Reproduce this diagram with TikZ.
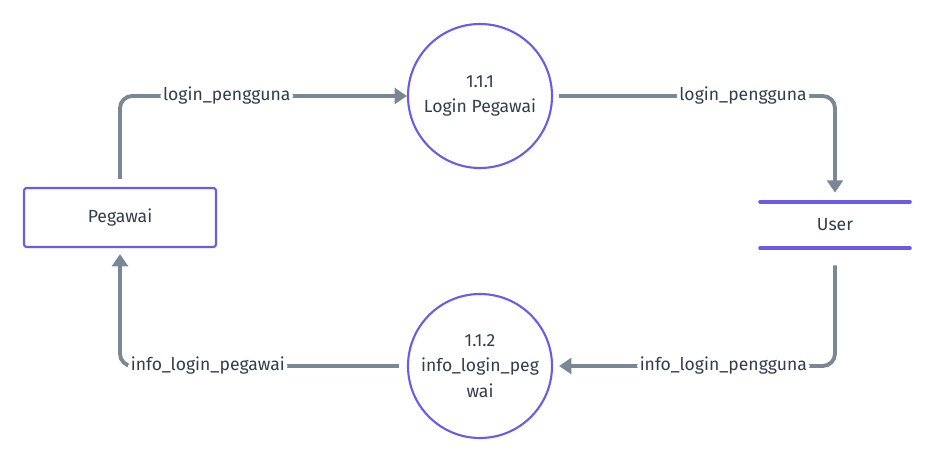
\documentclass[tikz,border=0pt]{standalone}
\usepackage{fontspec}
\setmainfont{Fira Sans}
\usepackage{xcolor}
\usepackage{tikz}
\usetikzlibrary{positioning, arrows.meta, calc}

\definecolor{flowgray}{HTML}{7A8794}
\definecolor{shapeblue}{HTML}{6B5CE7}
\definecolor{textdark}{HTML}{333D4D}

\begin{document}
\begin{tikzpicture}[
        font=\fontsize{10}{12}\selectfont, text=textdark,
        entity/.style={draw=shapeblue, line width=1.2pt, rounded corners=1.5pt, minimum width=3.84cm, minimum height=1.18cm},
        process/.style={circle, draw=shapeblue, line width=1.2pt, minimum size=2.88cm, inner sep=0pt, align=center, font=\fontsize{10}{14.6}\selectfont},
        store/.style={minimum width=2.98cm, minimum height=0.92cm},
        storeline/.style={draw=shapeblue, line width=2.2pt, line cap=round},
        flow/.style={draw=flowgray, line width=2.2pt, rounded corners=7pt, -{Triangle[length=7pt, width=9pt]}},
        flowlabel/.style={fill=white, inner sep=1.5pt}
    ]
        \useasboundingbox (0,0) rectangle (18.76,9.24);

        \node[entity] (pegawai) at (2.4,4.89) {Pegawai};
        \node[process] (login) at (9.6,7.32) {1.1.1\\Login Pegawai};
        \node[process] (info) at (9.6,1.92) {1.1.2\\info\_login\_peg\\wai};
        \node[store] (user) at (16.7,4.74) {User};
        \draw[storeline] (user.north west) -- (user.north east);
        \draw[storeline] (user.south west) -- (user.south east);

        \draw[flow, shorten <=0.16cm] (pegawai.north) |- node[flowlabel, pos=0.686] {login\_pengguna} (login.west);
        \draw[flow, shorten <=0.12cm, shorten >=0.18cm] (login.east) -| node[flowlabel, pos=0.337] {login\_pengguna} (user.north);
        \draw[flow, shorten <=0.34cm, shorten >=0.12cm] (user.south) |- node[flowlabel, pos=0.698] {info\_login\_pengguna} (info.east);
        \draw[flow, shorten <=0.16cm, shorten >=0.12cm] (info.west) -| node[flowlabel, pos=0.347] {info\_login\_pegawai} (pegawai.south);
    \end{tikzpicture}
\end{document}
